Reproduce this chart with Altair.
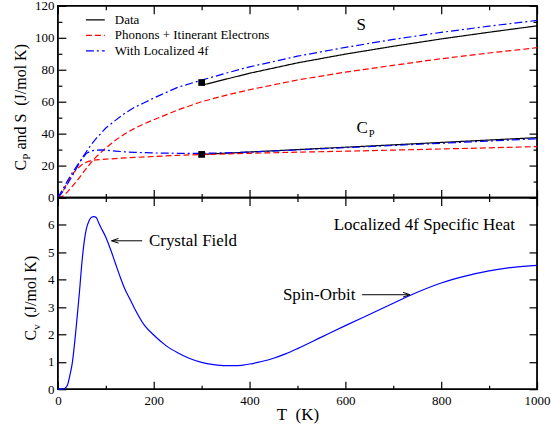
import altair as alt
import pandas as pd

FONT = "Liberation Serif, Times New Roman, Times, DejaVu Serif, serif"

# ---------------- data ----------------
# model curves (top panel)
T_model = [0, 10, 20, 30, 40, 50, 60, 70, 80, 90, 100, 120, 140, 160, 180, 200,
           250, 300, 350, 400, 500, 600, 700, 800, 900, 1000]
S_phonon = [0, 0.8, 3.5, 7, 10.6, 14.5, 18.5, 22.2, 25.5, 28.3, 31, 35.8, 40, 43.3,
            46.2, 48.7, 54.8, 60, 64, 67.5, 73.6, 78.5, 82.8, 86.9, 90.5, 93.8]
Cp_phonon = [0, 3.5, 9.5, 14.5, 18, 20.5, 22.2, 23.2, 23.6, 23.8, 24, 24.4, 24.8,
             25.1, 25.4, 25.7, 26.4, 26.9, 27.3, 27.7, 28.4, 29, 29.7, 30.4, 31.1, 31.9]
S_4f = [0, 3.5, 8.5, 13.5, 19, 24.5, 29, 33.3, 37, 40.3, 43.5, 48.3, 52.8, 56.5,
        59.3, 62.3, 69, 73.5, 77.8, 81.8, 88.5, 94, 99, 103.4, 107.3, 110.9]
Cp_4f = [0, 5, 10.5, 15.5, 20, 24, 27.8, 29.2, 29.7, 29.8, 29.6, 29.1, 28.6, 28.3,
         28.1, 27.9, 27.7, 27.7, 28, 28.4, 29.8, 31.2, 32.6, 34, 35.4, 36.8]

# measured data (top panel)
T_data = [300, 400, 500, 600, 700, 800, 900, 1000]
S_data = [70.3, 77.8, 84.3, 89.8, 94.7, 99.3, 103.5, 107.5]
Cp_data = [27.0, 28.5, 30.0, 31.5, 33.0, 34.5, 36.0, 37.5]
T_square = [300, 300]
V_square = [72, 27]

# localized 4f specific heat (bottom panel)
T_cv = [0, 10, 15, 20, 25, 30, 35, 40, 45, 50, 55, 60, 65, 70, 75, 80, 85, 90, 100,
        110, 120, 130, 140, 150, 160, 180, 200, 225, 250, 275, 300, 325, 350, 375,
        400, 425, 450, 475, 500, 550, 600, 650, 700, 750, 800, 850, 900, 950, 1000]
Cv_4f = [0, 0, 0.03, 0.15, 0.5, 0.95, 1.7, 2.6, 3.55, 4.6, 5.4, 5.9, 6.15, 6.28, 6.3,
         6.27, 6.08, 5.9, 5.55, 5.1, 4.6, 4.1, 3.65, 3.3, 2.95, 2.35, 1.98, 1.6, 1.33,
         1.12, 0.98, 0.9, 0.86, 0.86, 0.92, 1.01, 1.13, 1.29, 1.48, 1.9, 2.32, 2.73,
         3.14, 3.54, 3.88, 4.13, 4.32, 4.45, 4.52]

series_names = ["Data", "Phonons + Itinerant Electrons", "With Localized 4f"]
series_colors = ["#000000", "#ff0000", "#0000ff"]
series_dash = [[1, 0], [6, 3], [8, 3, 2, 3]]

x_ticks = list(range(0, 1001, 100))
ytop_ticks = list(range(0, 121, 10))
ybot_ticks = [i * 0.5 for i in range(15)]

# annotations (data coordinates)
ann_top_T = [633, 635]
ann_top_v = [108, 43.8]
ann_top_txt = ["S", "C"]
sub_top_T = [655]
sub_top_v = [39.9]
sub_top_txt = ["P"]

ann_bot_T = [190, 621, 954]
ann_bot_v = [5.42, 3.45, 6.0]
ann_bot_txt = ["Crystal Field", "Spin-Orbit", "Localized 4f Specific Heat"]
ann_bot_align = ["left", "right", "right"]
arrow_T1 = [112, 635]
arrow_T2 = [176, 735]
arrow_v = [5.42, 3.45]

# ---------------- tables ----------------
rows = []
for name, Ts, Ss, Cs in [("Data", T_data, S_data, Cp_data),
                         ("Phonons + Itinerant Electrons", T_model, S_phonon, Cp_phonon),
                         ("With Localized 4f", T_model, S_4f, Cp_4f)]:
    for t, s in zip(Ts, Ss):
        rows.append({"T": t, "v": s, "series": name, "qty": "S"})
    for t, c in zip(Ts, Cs):
        rows.append({"T": t, "v": c, "series": name, "qty": "Cp"})
df_top = pd.DataFrame(rows)
df_sq = pd.DataFrame({"T": T_square, "v": V_square})
df_cv = pd.DataFrame({"T": T_cv, "v": Cv_4f})
df_ann_top = pd.DataFrame({"T": ann_top_T, "v": ann_top_v, "txt": ann_top_txt})
df_sub_top = pd.DataFrame({"T": sub_top_T, "v": sub_top_v, "txt": sub_top_txt})
df_arrow = pd.DataFrame({"T1": arrow_T1, "T2": arrow_T2, "v": arrow_v})
df_head_l = pd.DataFrame({"T": [arrow_T1[0]], "v": [arrow_v[0]]})
df_head_r = pd.DataFrame({"T": [arrow_T2[1]], "v": [arrow_v[1]]})

xs = alt.Scale(domain=[0, 1000], nice=False, zero=False)
ys_top = alt.Scale(domain=[0, 120], nice=False, zero=False)
ys_bot = alt.Scale(domain=[0, 7], nice=False, zero=False)


def make_axis(orient, values, major, labels=False, label_test="true", pad=0,
              fmt="d", title=None, title_pad=0):
    kw = dict(orient=orient, values=values, domain=False, grid=False, ticks=True,
              tickSize=alt.ExprRef(expr=f"({major}) ? -8 : -4"), tickColor="black",
              tickWidth=1.2, labels=labels, title=title, format=fmt)
    if labels:
        kw.update(labelExpr=f"({label_test}) ? datum.label : ''", labelFont=FONT,
                  labelFontSize=13, labelColor="black", labelPadding=pad,
                  labelOverlap=False, labelFlush=False)
    if title is not None:
        kw.update(titleFont=FONT, titleFontSize=17, titleFontWeight="normal",
                  titleColor="black", titlePadding=title_pad)
    return alt.Axis(**kw)


xmaj = "datum.value % 200 === 0"
legend = alt.Legend(title=None, orient="none", legendX=31, legendY=7.5,
                    symbolType="M-2.7,0L2.7,0", symbolSize=49, symbolStrokeWidth=1.2,
                    labelFont=FONT, labelFontSize=13, labelColor="black",
                    labelOffset=13, rowPadding=1.5, padding=0)

# ---------------- top panel ----------------
lines_top = alt.Chart(df_top).mark_line(strokeWidth=1.2).encode(
    x=alt.X("T:Q", scale=xs, axis=make_axis("bottom", x_ticks, xmaj)),
    y=alt.Y("v:Q", scale=ys_top,
            axis=make_axis("left", ytop_ticks, "datum.value % 20 === 0", labels=True,
                           label_test="datum.value % 20 === 0", pad=12)),
    color=alt.Color("series:N", scale=alt.Scale(domain=series_names, range=series_colors),
                    legend=legend),
    strokeDash=alt.StrokeDash("series:N",
                              scale=alt.Scale(domain=series_names, range=series_dash),
                              legend=legend),
    detail="qty:N",
)
mirror_top = alt.Chart(df_top).mark_line(strokeOpacity=0).encode(
    x=alt.X("T:Q", scale=xs, axis=make_axis("top", x_ticks, xmaj)),
    y=alt.Y("v:Q", scale=ys_top, axis=make_axis("right", ytop_ticks, "datum.value % 20 === 0")),
    detail="qty:N",
)
squares = alt.Chart(df_sq).mark_square(size=45, color="black", opacity=1).encode(
    x=alt.X("T:Q", scale=xs, axis=None),
    y=alt.Y("v:Q", scale=ys_top, axis=None),
)
txt_top = alt.Chart(df_ann_top).mark_text(font=FONT, fontSize=17, color="black",
                                          baseline="middle").encode(
    x=alt.X("T:Q", scale=xs, axis=None), y=alt.Y("v:Q", scale=ys_top, axis=None),
    text="txt:N")
sub_top = alt.Chart(df_sub_top).mark_text(font=FONT, fontSize=10.5, color="black",
                                          baseline="middle").encode(
    x=alt.X("T:Q", scale=xs, axis=None), y=alt.Y("v:Q", scale=ys_top, axis=None),
    text="txt:N")


def vtitle(pieces, scale):
    layers = []
    for txt, val, fs, px in pieces:
        d = pd.DataFrame({"v": [val], "txt": [txt]})
        layers.append(alt.Chart(d).mark_text(font=FONT, fontSize=fs, color="black",
                                             angle=270, align="left",
                                             baseline="alphabetic").encode(
            x=alt.value(px), y=alt.Y("v:Q", scale=scale, axis=None), text="txt:N"))
    return layers


ytitle_top = vtitle([("C", 16.9, 16, -32), ("P", 23.6, 11, -28),
                     ("and S\u00a0\u00a0(J/mol K)", 30.0, 16, -32)], ys_top)

top = alt.layer(lines_top, mirror_top, squares, txt_top, sub_top, *ytitle_top).resolve_axis(
    x="independent", y="independent").properties(width=480, height=192)

# ---------------- bottom panel ----------------
line_cv = alt.Chart(df_cv).mark_line(color="#0000ff", strokeWidth=1.2,
                                     interpolate="monotone").encode(
    x=alt.X("T:Q", scale=xs,
            axis=make_axis("bottom", x_ticks, xmaj, labels=True, label_test=xmaj, pad=13,
                           title="T\u00a0\u00a0(K)", title_pad=-5)),
    y=alt.Y("v:Q", scale=ys_bot,
            axis=make_axis("left", ybot_ticks, "datum.value % 1 === 0", labels=True,
                           label_test="datum.value % 1 === 0 && datum.value < 6.5", pad=12)),
)
mirror_bot = alt.Chart(df_cv).mark_line(strokeOpacity=0).encode(
    x=alt.X("T:Q", scale=xs, axis=make_axis("top", x_ticks, xmaj)),
    y=alt.Y("v:Q", scale=ys_bot, axis=make_axis("right", ybot_ticks, "datum.value % 1 === 0")),
)
txt_bot = alt.layer(*[
    alt.Chart(pd.DataFrame({"T": [t], "v": [v], "txt": [s]})).mark_text(
        font=FONT, fontSize=17, color="black", baseline="middle", align=a).encode(
        x=alt.X("T:Q", scale=xs, axis=None), y=alt.Y("v:Q", scale=ys_bot, axis=None),
        text="txt:N")
    for t, v, s, a in zip(ann_bot_T, ann_bot_v, ann_bot_txt, ann_bot_align)
])
arrows = alt.Chart(df_arrow).mark_rule(color="black", strokeWidth=1).encode(
    x=alt.X("T1:Q", scale=xs, axis=None), x2="T2:Q",
    y=alt.Y("v:Q", scale=ys_bot, axis=None))
head_l = alt.Chart(df_head_l).mark_point(shape="M1.8,-0.6L0,0L1.8,0.6", size=60,
                                         filled=False, color="black", strokeWidth=1,
                                         opacity=1).encode(
    x=alt.X("T:Q", scale=xs, axis=None), y=alt.Y("v:Q", scale=ys_bot, axis=None))
head_r = alt.Chart(df_head_r).mark_point(shape="M-1.8,-0.6L0,0L-1.8,0.6", size=60,
                                         filled=False, color="black", strokeWidth=1,
                                         opacity=1).encode(
    x=alt.X("T:Q", scale=xs, axis=None), y=alt.Y("v:Q", scale=ys_bot, axis=None))

ytitle_bot = vtitle([("C", 1.78, 16, -22), ("v", 2.17, 11, -17.5),
                     ("(J/mol K)", 2.62, 16, -22)], ys_bot)

bottom = alt.layer(line_cv, mirror_bot, txt_bot, arrows, head_l, head_r,
                   *ytitle_bot).resolve_axis(
    x="independent", y="independent").properties(width=480, height=192)

chart = alt.vconcat(top, bottom, spacing=0, bounds="flush").properties(
    padding={"left": 12, "top": -1.5, "right": 0, "bottom": 0}
).configure_view(stroke="black", strokeWidth=1.8).configure_axis(
    labelFont=FONT, titleFont=FONT).configure_legend(labelFont=FONT).configure_text(font=FONT)

chart.save("out.html", embed_options={"renderer": "svg", "actions": False})
